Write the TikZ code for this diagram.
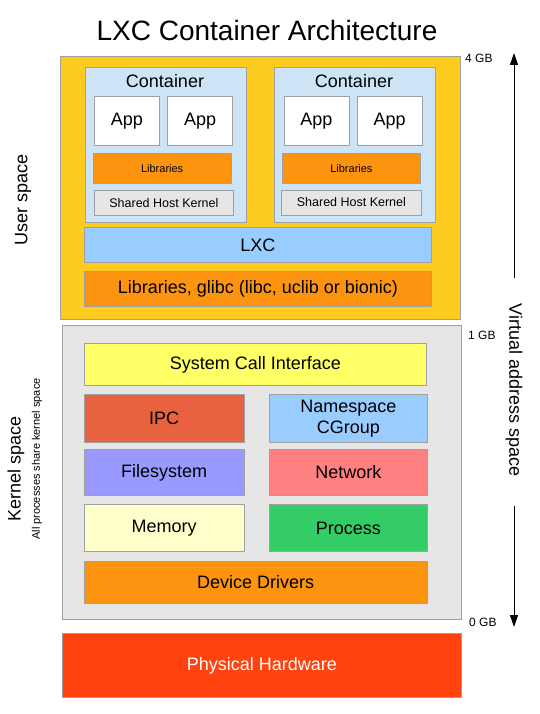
\documentclass[tikz,border=0pt]{standalone}
\usepackage{fontspec}
\setmainfont{Liberation Sans}
\usetikzlibrary{arrows.meta, positioning}
\definecolor{usergold}{RGB}{253,204,30}
\definecolor{contblue}{RGB}{204,228,245}
\definecolor{liborange}{RGB}{253,148,16}
\definecolor{kernelgray}{RGB}{230,230,230}
\definecolor{lxcblue}{RGB}{153,204,255}
\definecolor{sysyellow}{RGB}{255,255,102}
\definecolor{ipcred}{RGB}{232,98,64}
\definecolor{fsviolet}{RGB}{153,153,255}
\definecolor{netpink}{RGB}{255,128,128}
\definecolor{memcream}{RGB}{255,255,204}
\definecolor{procgreen}{RGB}{51,204,102}
\definecolor{hwred}{RGB}{255,66,14}
\definecolor{edgegray}{RGB}{160,160,160}

\begin{document}
\begin{tikzpicture}[
    x=1pt, y=-1pt,
    box/.style={rectangle, draw=edgegray, line width=0.8pt, fill=#1, anchor=north west, inner sep=0pt, align=center, font=\fontsize{18}{21}\selectfont},
    box/.default=white,
    small/.style={font=\fontsize{11}{13}\selectfont},
    mid/.style={font=\fontsize{12.5}{15}\selectfont},
    gb/.style={anchor=west, inner sep=0pt, font=\fontsize{12}{14}\selectfont},
    side/.style={inner sep=0pt, font=\fontsize{18}{21}\selectfont},
    arrow/.style={-{Triangle[length=12pt, width=8pt]}, line width=1pt}
]
\useasboundingbox (0,0) rectangle (540,714);

% Title
\node[font=\fontsize{28}{32}\selectfont] (title) at (267,30) {LXC Container Architecture};

% User space
\node[box=usergold, minimum width=400pt, minimum height=263pt] (user) at (60,56) {};

% Container 1
\node[box=contblue, minimum width=161pt, minimum height=155pt] (cont1) at (85,67) {};
\node[inner sep=0pt, font=\fontsize{18}{21}\selectfont] (cont1t) at (165,81) {Container};
\node[box, minimum width=65pt, minimum height=49pt] (app1a) at (94,96.5) {App};
\node[box, minimum width=65pt, minimum height=49pt, right=7.5pt of app1a] (app1b) {App};
\node[box=liborange, small, minimum width=137.5pt, minimum height=30pt] (lib1) at (93,153) {Libraries};
\node[box=kernelgray, mid, minimum width=139pt, minimum height=25pt] (shk1) at (94,190) {Shared Host Kernel};

% Container 2
\node[box=contblue, minimum width=161pt, minimum height=155pt] (cont2) at (274,67) {};
\node[inner sep=0pt, font=\fontsize{18}{21}\selectfont] (cont2t) at (354,81) {Container};
\node[box, minimum width=65pt, minimum height=49pt] (app2a) at (283.5,96.5) {App};
\node[box, minimum width=65pt, minimum height=49pt, right=7.5pt of app2a] (app2b) {App};
\node[box=liborange, small, minimum width=138pt, minimum height=30pt] (lib2) at (282,153) {Libraries};
\node[box=kernelgray, mid, minimum width=140pt, minimum height=25pt] (shk2) at (281,189.5) {Shared Host Kernel};

% LXC and libraries
\node[box=lxcblue, minimum width=347pt, minimum height=35pt] (lxc) at (84,227) {LXC};
\node[box=liborange, minimum width=347pt, minimum height=35pt] (glibc) at (84,271) {Libraries, glibc (libc, uclib or bionic)};

% Kernel space
\node[box=kernelgray, minimum width=399pt, minimum height=294pt] (kernel) at (62,325) {};
\node[box=sysyellow, minimum width=342pt, minimum height=42pt] (syscall) at (84,343) {System Call Interface};
\node[box=ipcred, minimum width=159.5pt, minimum height=48pt] (ipc) at (84,394) {IPC};
\node[box=lxcblue, minimum width=158.5pt, minimum height=48pt, right=24.5pt of ipc] (ns) {Namespace\\CGroup};
\node[box=fsviolet, minimum width=159.5pt, minimum height=46pt] (fs) at (84,449) {Filesystem};
\node[box=netpink, minimum width=158.5pt, minimum height=46pt, right=24.5pt of fs] (net) {Network};
\node[box=memcream, minimum width=159.5pt, minimum height=47pt] (mem) at (84,504) {Memory};
\node[box=procgreen, minimum width=158.5pt, minimum height=47pt, right=24.5pt of mem] (proc) {Process};
\node[box=liborange, minimum width=342.5pt, minimum height=42pt] (drivers) at (84,561) {Device Drivers};

% Hardware
\node[box=hwred, text=white, minimum width=399pt, minimum height=64pt] (hw) at (62,633) {Physical Hardware};

% Side labels
\node[side, rotate=90] (userlbl) at (23,200) {User space};
\node[side, rotate=90] (kernlbl) at (16,469) {Kernel space};
\node[inner sep=0pt, rotate=90, font=\fontsize{11}{13}\selectfont] (kernsub) at (37,459) {All processes share kernel space};
\node[side, rotate=-90] (vaslbl) at (514,390) {Virtual address space};

% Address marks
\node[gb] (gb4) at (465,58) {4 GB};
\node[gb] (gb1) at (468,335) {1 GB};
\node[gb] (gb0) at (469,622) {0 GB};

% Arrows
\coordinate (uptop) at (514,53);
\coordinate (upbase) at (514,278);
\coordinate (downbase) at (514,506);
\coordinate (downtip) at (514,627);
\draw[arrow] (upbase) -- (uptop);
\draw[arrow] (downbase) -- (downtip);

\end{tikzpicture}
\end{document}
